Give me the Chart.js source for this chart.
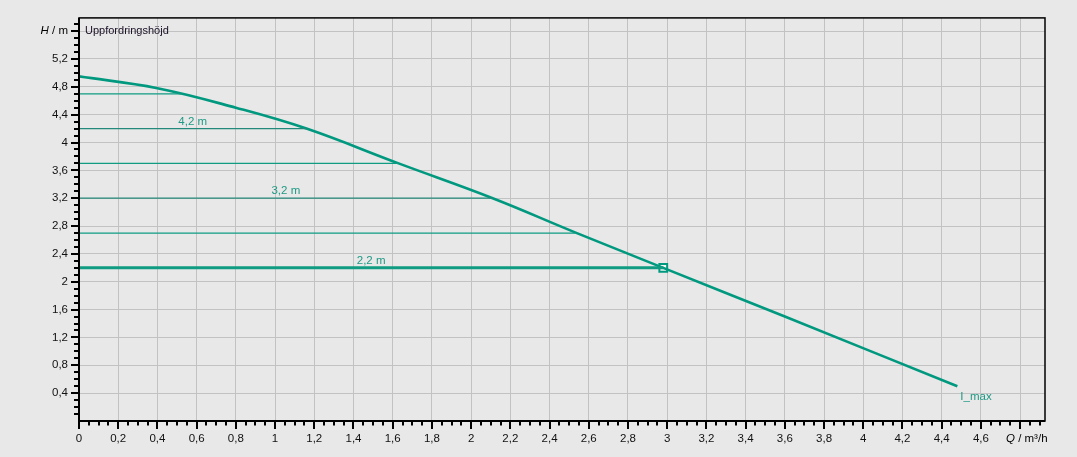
<!DOCTYPE html>
<html>
<head>
<meta charset="utf-8">
<script src="https://cdn.jsdelivr.net/npm/chart.js@4.4.1/dist/chart.umd.min.js"></script>
<style>
  html, body { margin: 0; padding: 0; background: #e8e8e8; }
  canvas { display: block; }
</style>
</head>
<body>
<canvas id="c" width="1077" height="457"></canvas>
<script>
// ---- data ----
const curveQ = [0, 0.4, 0.8, 1.16, 1.63, 2.11, 2.53, 2.98, 3.6, 4.48];
const curveH = [4.95, 4.78, 4.50, 4.20, 3.70, 3.20, 2.71, 2.20, 1.50, 0.50];
const levelH   = [4.7, 4.2, 3.7, 3.2, 2.7, 2.2];
const levelEnd = [0.52, 1.16, 1.63, 2.11, 2.53, 2.98];
const levelLabels = ['', '4,2 m', '', '3,2 m', '', '2,2 m'];
const opPointQ = 2.98, opPointH = 2.2;
const xTicks = [0,0.2,0.4,0.6,0.8,1,1.2,1.4,1.6,1.8,2,2.2,2.4,2.6,2.8,3,3.2,3.4,3.6,3.8,4,4.2,4.4,4.6,4.8];
const yTicks = [0,0.4,0.8,1.2,1.6,2,2.4,2.8,3.2,3.6,4,4.4,4.8,5.2,5.6];
const xMax = 4.927, yMax = 5.79;
const curveLabel = 'I_max';
const titleLabel = 'Uppfordringshöjd';

const TEAL = '#00997f';
const TEAL_THIN = '#0f9c83';
const TEAL_DARK = '#23897a';
const FONT = '"Liberation Sans", Arial, sans-serif';

function fmt(v) { return String(Math.round(v * 10) / 10).replace('.', ','); }

const datasets = [];
levelH.forEach((h, i) => {
  const main = Math.abs(h - opPointH) < 1e-9;
  datasets.push({
    type: 'line',
    data: [{x: 0, y: h}, {x: levelEnd[i], y: h}],
    borderColor: levelLabels[i] && !main ? TEAL_DARK : TEAL_THIN,
    borderWidth: main ? 3 : 1.2,
    pointRadius: 0,
    tension: 0
  });
});
datasets.push({
  type: 'line',
  data: curveQ.map((q, i) => ({x: q, y: curveH[i]})),
  borderColor: TEAL,
  borderWidth: 2.6,
  pointRadius: 0,
  tension: 0.4
});
datasets.push({
  type: 'scatter',
  data: [{x: opPointQ, y: opPointH}],
  pointStyle: 'rect',
  pointRadius: 5.5,
  borderWidth: 2,
  borderColor: TEAL,
  backgroundColor: '#f4f4f4'
});

const deco = {
  id: 'deco',
  beforeDraw(chart) {
    const ctx = chart.ctx;
    ctx.save();
    ctx.fillStyle = '#e8e8e8';
    ctx.fillRect(0, 0, chart.width, chart.height);
    ctx.restore();
  },
  afterDatasetsDraw(chart) {
    const ctx = chart.ctx, a = chart.chartArea;
    const xs = chart.scales.x, ys = chart.scales.y;
    ctx.save();
    ctx.strokeStyle = '#000';
    ctx.lineWidth = 1.5;
    ctx.strokeRect(a.left, a.top, a.right - a.left, a.bottom - a.top);
    ctx.lineWidth = 2;
    ctx.beginPath();
    ctx.moveTo(a.left, a.top); ctx.lineTo(a.left, a.bottom); ctx.lineTo(a.right, a.bottom);
    ctx.stroke();
    ctx.lineWidth = 2;
    ctx.beginPath();
    for (let k = 1; k * 0.1 <= yMax + 1e-9; k++) {
      const y = Math.round(ys.getPixelForValue(k * 0.1));
      const major = k % 4 === 0;
      ctx.moveTo(a.left - (major ? 8 : 5), y);
      ctx.lineTo(a.left, y);
    }
    for (let k = 0; k * 0.05 <= xMax + 1e-9; k++) {
      const x = Math.round(xs.getPixelForValue(k * 0.05));
      const major = k % 4 === 0;
      ctx.moveTo(x, a.bottom);
      ctx.lineTo(x, a.bottom + (major ? 8 : 4.5));
    }
    ctx.stroke();
    ctx.restore();
  },
  afterDraw(chart) {
    const ctx = chart.ctx, a = chart.chartArea;
    const xs = chart.scales.x, ys = chart.scales.y;
    ctx.save();
    ctx.font = '11.5px ' + FONT;
    ctx.fillStyle = '#1f9a84';
    ctx.textAlign = 'center';
    ctx.textBaseline = 'alphabetic';
    levelH.forEach((h, i) => {
      if (!levelLabels[i]) return;
      const x = xs.getPixelForValue(levelEnd[i] / 2);
      const y = ys.getPixelForValue(h) - 4;
      ctx.fillText(levelLabels[i], x, y);
    });
    ctx.textAlign = 'left';
    ctx.textBaseline = 'middle';
    ctx.fillText(curveLabel, xs.getPixelForValue(curveQ[curveQ.length - 1]) + 3, ys.getPixelForValue(curveH[curveH.length - 1]) + 11);
    ctx.fillStyle = '#1a0f24';
    ctx.font = '11px ' + FONT;
    ctx.fillText(titleLabel, a.left + 6, ys.getPixelForValue(5.6));
    ctx.fillStyle = '#000';
    const yU = ys.getPixelForValue(5.6);
    ctx.textAlign = 'right';
    ctx.font = '11.5px ' + FONT;
    const rest = ' / m';
    ctx.fillText(rest, a.left - 11, yU);
    const rw = ctx.measureText(rest).width;
    ctx.font = 'italic 11.5px ' + FONT;
    ctx.fillText('H', a.left - 11 - rw, yU);
    ctx.textAlign = 'left';
    ctx.textBaseline = 'top';
    const xU = a.bottom + 12;
    ctx.font = 'italic 11.5px ' + FONT;
    const qx = 1006;
    ctx.fillText('Q', qx, xU);
    const qw = ctx.measureText('Q').width;
    ctx.font = '11.5px ' + FONT;
    ctx.fillText(' / m³/h', qx + qw, xU);
    ctx.restore();
  }
};

new Chart(document.getElementById('c'), {
  data: { datasets },
  options: {
    responsive: false,
    animation: false,
    devicePixelRatio: 1,
    layout: { padding: { top: 14, right: 32, left: 0, bottom: 0 } },
    plugins: { legend: { display: false }, tooltip: { enabled: false } },
    scales: {
      x: {
        type: 'linear', min: 0, max: xMax,
        afterBuildTicks: s => { s.ticks = xTicks.map(v => ({value: v})); },
        afterFit: s => { s.height = 36; },
        grid: { color: '#c2c2c2', lineWidth: 1, drawTicks: false },
        border: { display: false },
        ticks: {
          padding: 11, color: '#111', maxRotation: 0, autoSkip: false,
          font: { family: FONT, size: 11.5 },
          callback: v => (Math.abs(v - 4.8) < 1e-9 ? '' : fmt(v))
        }
      },
      y: {
        type: 'linear', min: 0, max: yMax,
        afterBuildTicks: s => { s.ticks = yTicks.map(v => ({value: v})); },
        afterFit: s => { s.width = 79; },
        grid: { color: '#c2c2c2', lineWidth: 1, drawTicks: false },
        border: { display: false },
        ticks: {
          padding: 11, color: '#111', autoSkip: false,
          font: { family: FONT, size: 11.5 },
          callback: v => ((v === 0 || Math.abs(v - 5.6) < 1e-9) ? '' : fmt(v))
        }
      }
    }
  },
  plugins: [deco]
});
</script>
</body>
</html>
